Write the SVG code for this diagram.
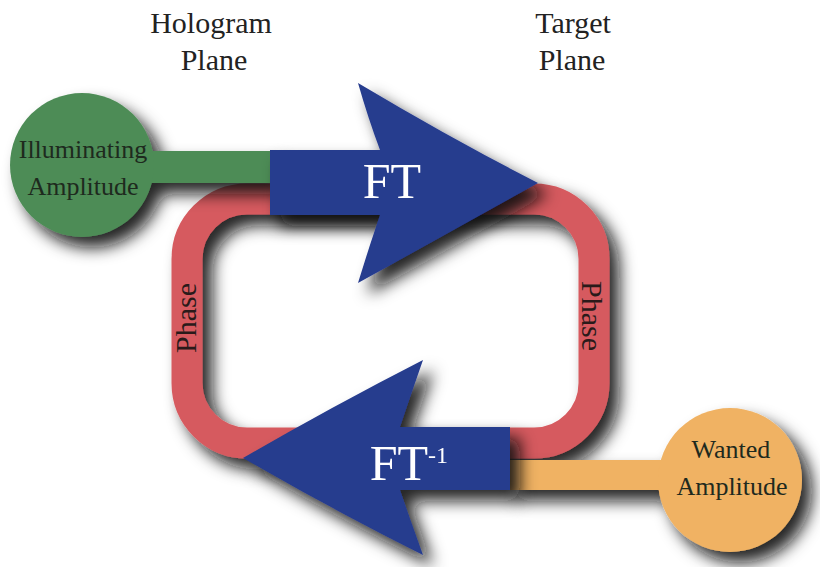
<svg xmlns="http://www.w3.org/2000/svg" width="820" height="567" viewBox="0 0 820 567">
<defs>
<filter id="sh" x="-30%" y="-30%" width="160%" height="160%">
<feDropShadow dx="10" dy="11" stdDeviation="8" flood-color="#111111" flood-opacity="0.9"/>
</filter>
</defs>
<style>
.t{font-family:"Liberation Serif","Times New Roman",serif;text-anchor:middle}
.title{font-size:30px;fill:#222}
.node{font-size:26px;fill:#1e2a1e}
.ph{font-size:30px;fill:#2a1a1a}
.ft{font-size:50px;fill:#ffffff}
.blue{fill:#263c8e}
</style>
<rect width="820" height="567" fill="#ffffff"/>
<g id="titles">
<text class="t title" x="211" y="33">Hologram</text>
<text class="t title" x="214" y="70">Plane</text>
<text class="t title" x="573" y="33">Target</text>
<text class="t title" x="572" y="70">Plane</text>
</g>
<g id="connectors">
<g id="phase-loop" filter="url(#sh)">
<rect x="187" y="199" width="407" height="244" rx="60" ry="60" fill="none" stroke="#d65a5f" stroke-width="31"/>
</g>
<text class="t ph" transform="translate(196,318) rotate(-90)">Phase</text>
<text class="t ph" transform="translate(582,316) rotate(90)">Phase</text>
</g>
<g id="illuminating" filter="url(#sh)">
<rect x="140" y="151" width="132" height="32" fill="#4e8c57"/>
<circle cx="82" cy="165" r="72" fill="#4e8c57"/>
</g>
<g id="illuminating-label">
<text class="t node" x="83" y="158">Illuminating</text>
<text class="t node" x="83" y="195">Amplitude</text>
</g>
<g id="wanted" filter="url(#sh)">
<rect x="505" y="460" width="170" height="30" fill="#f0b263"/>
<circle cx="730" cy="480" r="72" fill="#f0b263"/>
</g>
<g id="wanted-label">
<text class="t node" x="731" y="458">Wanted</text>
<text class="t node" x="732" y="495">Amplitude</text>
</g>
<g id="ft" filter="url(#sh)">
<path class="blue" d="M270,150 H380 Q368,118 358,83 Q450,138 538,183 Q450,232 358,283 Q368,250 380,215 H270 Z"/>
<text class="t ft" x="392" y="198">FT</text>
</g>
<g id="ift" filter="url(#sh)">
<path class="blue" d="M510,427 H400 Q411,394 423,360 Q333,406 243,458 Q333,510 423,555 Q411,522 400,490 H510 Z"/>
<text class="t ft" x="399" y="480">FT</text>
<text class="t" x="438" y="463" style="font-size:24px;fill:#fff">-1</text>
</g>
</svg>
